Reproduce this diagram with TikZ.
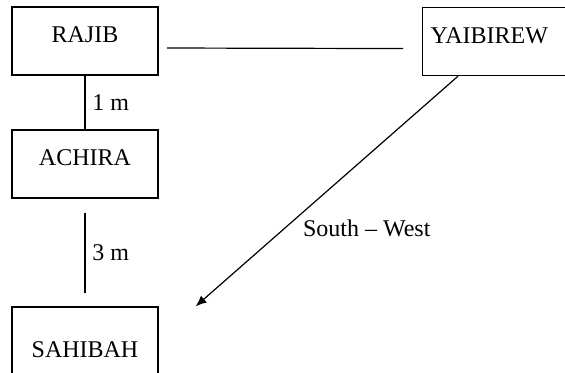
\documentclass[tikz,border=0pt]{standalone}
\usepackage{fontspec}
\setmainfont{Liberation Serif}
\usetikzlibrary{arrows.meta}

\tikzset{
  namebox/.style={draw, inner xsep=0pt, inner ysep=0pt, minimum width=73pt, text height=18pt, text depth=16pt},
}

\begin{document}
\begin{tikzpicture}[x=0.5pt, y=-0.5pt, line width=0.6pt, font=\fontsize{12pt}{14pt}\selectfont]
\clip (0, 0) rectangle (565, 373);
\node[namebox] (rajib) at (85, 41) {RAJIB};
\node[namebox, anchor=north west, inner xsep=4pt, text width=65pt, align=left] (yaib) at (422, 7) {YAIBIREW};
\node[namebox] (achira) at (85, 164) {ACHIRA};
\node[namebox, text height=25pt] (sahibah) at (85, 348) {SAHIBAH};

\draw[shorten <=4.25pt, shorten >=9.5pt] ([yshift=-3.5pt]rajib.east) -- ([yshift=-3.5pt]yaib.west);
\draw (rajib) -- (achira) node[midway, right] {1 m};
\draw[shorten <=7pt, shorten >=6.5pt] (achira) -- (sahibah) node[midway, right] {3 m};
\draw[-{Latex[length=5.5pt, width=4.5pt]}] ([xshift=18pt]yaib.south west) -- ([xshift=18.5pt]sahibah.north east)
  node[pos=0.66, anchor=west, xshift=5.5pt] {South -- West};
\end{tikzpicture}
\end{document}
